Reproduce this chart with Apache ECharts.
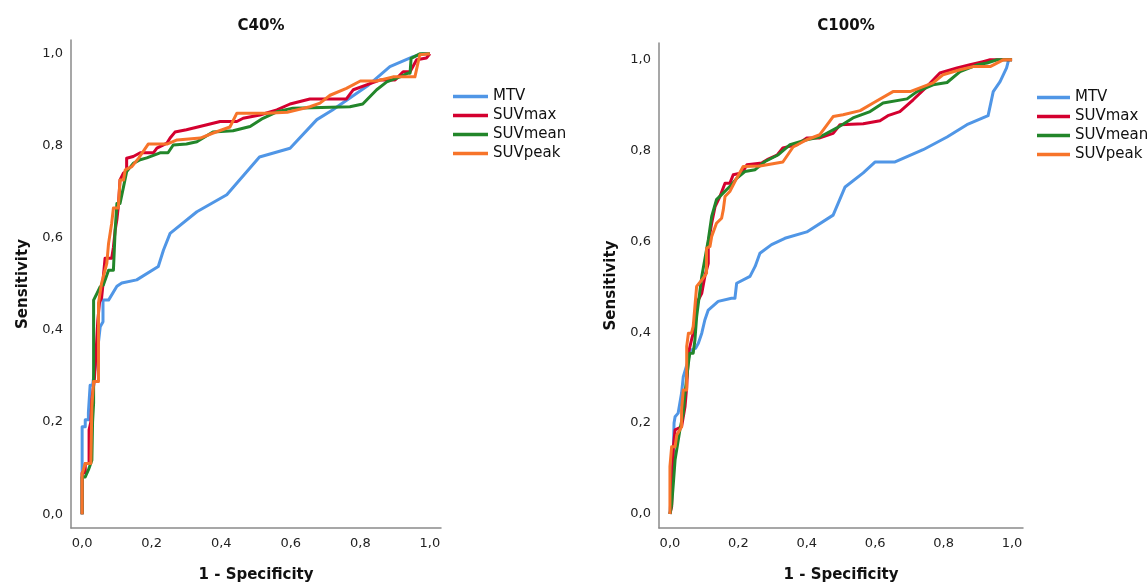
<!DOCTYPE html>
<html>
<head>
<meta charset="utf-8">
<script src="https://cdn.jsdelivr.net/npm/echarts@6.0.0/dist/echarts.min.js"></script>
<style>
html,body{margin:0;padding:0;background:#fff;}
#chart{width:1147px;height:586px;}
</style>
</head>
<body>
<div id="chart"></div>
<script>
// ---- Data ----
const seriesNames = ['MTV', 'SUVmax', 'SUVmean', 'SUVpeak'];
const panelTitles = ['C40%', 'C100%'];
const tickValues = [0, 0.2, 0.4, 0.6, 0.8, 1.0];
const xAxisTitle = '1 - Specificity';
const yAxisTitle = 'Sensitivity';

// C40% panel: [1 - specificity, sensitivity]
const c40MTV = [[0,0],[0,0.19],[0.009,0.19],[0.009,0.205],[0.018,0.205],[0.018,0.22],[0.023,0.22],[0.023,0.28],[0.03,0.28],[0.045,0.36],[0.052,0.407],[0.06,0.418],[0.06,0.465],[0.076,0.465],[0.1,0.495],[0.114,0.502],[0.157,0.509],[0.219,0.538],[0.234,0.574],[0.253,0.61],[0.33,0.657],[0.416,0.694],[0.51,0.776],[0.598,0.795],[0.675,0.857],[0.72,0.878],[0.82,0.93],[0.885,0.972],[0.952,0.994],[0.98,1.0],[1,1]];
const c40SUVmax = [[0,0],[0,0.09],[0.009,0.09],[0.009,0.11],[0.02,0.11],[0.02,0.183],[0.025,0.2],[0.028,0.25],[0.035,0.29],[0.04,0.35],[0.045,0.42],[0.05,0.46],[0.056,0.47],[0.06,0.5],[0.061,0.516],[0.066,0.556],[0.085,0.556],[0.09,0.58],[0.095,0.617],[0.1,0.64],[0.104,0.668],[0.109,0.726],[0.119,0.741],[0.128,0.745],[0.128,0.773],[0.147,0.777],[0.167,0.785],[0.205,0.785],[0.215,0.795],[0.244,0.806],[0.253,0.817],[0.267,0.83],[0.3,0.835],[0.359,0.846],[0.397,0.853],[0.445,0.853],[0.463,0.86],[0.511,0.867],[0.56,0.878],[0.598,0.891],[0.655,0.902],[0.76,0.902],[0.78,0.922],[0.82,0.933],[0.856,0.943],[0.9,0.943],[0.923,0.961],[0.943,0.961],[0.962,0.987],[0.99,0.991],[1,1]];
const c40SUVmean = [[0,0],[0,0.081],[0.009,0.081],[0.018,0.096],[0.028,0.117],[0.03,0.2],[0.033,0.241],[0.033,0.465],[0.043,0.48],[0.052,0.494],[0.061,0.498],[0.076,0.53],[0.09,0.53],[0.095,0.617],[0.1,0.675],[0.109,0.675],[0.119,0.711],[0.128,0.744],[0.147,0.762],[0.167,0.77],[0.186,0.774],[0.224,0.785],[0.247,0.785],[0.262,0.802],[0.3,0.804],[0.33,0.809],[0.376,0.83],[0.434,0.833],[0.483,0.842],[0.52,0.86],[0.56,0.874],[0.606,0.882],[0.77,0.885],[0.807,0.891],[0.847,0.922],[0.876,0.939],[0.914,0.95],[0.937,0.958],[0.943,0.958],[0.946,0.99],[0.971,1],[1,1]];
const c40SUVpeak = [[0,0],[0,0.087],[0.009,0.11],[0.025,0.11],[0.028,0.233],[0.033,0.288],[0.047,0.288],[0.047,0.42],[0.047,0.458],[0.056,0.502],[0.071,0.545],[0.076,0.588],[0.085,0.632],[0.09,0.665],[0.104,0.665],[0.109,0.726],[0.119,0.726],[0.124,0.748],[0.143,0.755],[0.162,0.773],[0.19,0.804],[0.244,0.804],[0.273,0.813],[0.34,0.817],[0.377,0.828],[0.425,0.841],[0.445,0.871],[0.53,0.871],[0.59,0.873],[0.655,0.885],[0.684,0.893],[0.713,0.91],[0.76,0.925],[0.8,0.941],[0.847,0.941],[0.894,0.95],[0.957,0.95],[0.971,0.998],[1,1]];

// C100% panel
const c100MTV = [[0,0],[0.005,0.06],[0.01,0.14],[0.012,0.2],[0.015,0.214],[0.024,0.222],[0.034,0.266],[0.039,0.302],[0.05,0.33],[0.06,0.36],[0.075,0.365],[0.083,0.376],[0.093,0.398],[0.102,0.427],[0.112,0.449],[0.141,0.468],[0.18,0.475],[0.19,0.475],[0.195,0.508],[0.234,0.523],[0.249,0.545],[0.263,0.574],[0.297,0.593],[0.336,0.607],[0.4,0.621],[0.477,0.658],[0.512,0.72],[0.565,0.751],[0.6,0.775],[0.658,0.775],[0.74,0.802],[0.81,0.83],[0.868,0.857],[0.93,0.877],[0.945,0.93],[0.965,0.952],[0.984,0.982],[0.99,1.0],[1,1]];
const c100SUVmax = [[0,0],[0.005,0.016],[0.01,0.148],[0.015,0.185],[0.034,0.192],[0.044,0.236],[0.049,0.28],[0.054,0.354],[0.063,0.383],[0.073,0.413],[0.078,0.464],[0.093,0.486],[0.102,0.523],[0.112,0.552],[0.112,0.596],[0.122,0.64],[0.132,0.677],[0.146,0.699],[0.161,0.728],[0.175,0.728],[0.185,0.747],[0.205,0.75],[0.219,0.761],[0.225,0.769],[0.269,0.773],[0.284,0.78],[0.313,0.79],[0.33,0.806],[0.371,0.813],[0.4,0.828],[0.438,0.828],[0.477,0.838],[0.497,0.857],[0.565,0.859],[0.614,0.866],[0.637,0.877],[0.672,0.886],[0.711,0.912],[0.751,0.941],[0.789,0.971],[0.839,0.982],[0.877,0.989],[0.915,0.996],[0.936,1],[1,1]];
const c100SUVmean = [[0,0],[0.005,0.02],[0.01,0.068],[0.015,0.119],[0.029,0.185],[0.039,0.222],[0.044,0.266],[0.054,0.332],[0.058,0.354],[0.068,0.354],[0.073,0.383],[0.078,0.434],[0.093,0.523],[0.112,0.603],[0.122,0.655],[0.136,0.692],[0.151,0.703],[0.18,0.725],[0.195,0.739],[0.219,0.754],[0.249,0.758],[0.278,0.776],[0.317,0.791],[0.351,0.813],[0.4,0.824],[0.438,0.83],[0.488,0.85],[0.535,0.872],[0.585,0.886],[0.623,0.905],[0.693,0.914],[0.722,0.93],[0.769,0.945],[0.81,0.95],[0.848,0.974],[0.898,0.989],[0.927,0.993],[0.956,1],[1,1]];
const c100SUVpeak = [[0,0],[0,0.104],[0.005,0.104],[0.005,0.148],[0.015,0.148],[0.02,0.174],[0.029,0.185],[0.034,0.192],[0.034,0.229],[0.039,0.273],[0.049,0.273],[0.049,0.369],[0.054,0.398],[0.063,0.398],[0.068,0.413],[0.073,0.457],[0.078,0.501],[0.093,0.515],[0.107,0.53],[0.107,0.585],[0.117,0.589],[0.122,0.611],[0.136,0.64],[0.151,0.651],[0.156,0.67],[0.161,0.699],[0.175,0.71],[0.19,0.732],[0.214,0.765],[0.263,0.766],[0.33,0.775],[0.36,0.808],[0.4,0.824],[0.438,0.835],[0.477,0.875],[0.506,0.879],[0.556,0.888],[0.594,0.905],[0.652,0.93],[0.702,0.93],[0.769,0.949],[0.798,0.967],[0.848,0.978],[0.886,0.985],[0.936,0.985],[0.974,1],[1,1]];

const panelData = [
  [c40MTV, c40SUVmax, c40SUVmean, c40SUVpeak],
  [c100MTV, c100SUVmax, c100SUVmean, c100SUVpeak]
];

// ---- Styles ----
const colors = ['#5096E6', '#D4002F', '#22862A', '#F7742A'];
const FONT = 'DejaVu Sans';
const grids = [
  {left: 71, top: 40, width: 370, height: 488, outerBoundsMode: 'none', containLabel: false},
  {left: 659, top: 43, width: 364, height: 485, outerBoundsMode: 'none', containLabel: false}
];
const yRanges = [[-0.03, 1.03], [-0.031, 1.037]];
const fmt = v => v.toFixed(1).replace('.', ',');

const chart = echarts.init(document.getElementById('chart'), null, {renderer: 'canvas'});

const xAxes = grids.map((g, i) => ({
  type: 'value', gridIndex: i, min: -0.032, max: 1.032,
  name: xAxisTitle, nameLocation: 'middle', nameGap: 40,
  nameTextStyle: {fontFamily: FONT, fontWeight: 'bold', fontSize: 15, color: '#111'},
  axisLine: {show: true, onZero: false, lineStyle: {color: '#8a8a8a', width: 1.5}},
  axisTick: {show: false},
  splitLine: {show: false},
  axisLabel: {customValues: tickValues, formatter: fmt, fontFamily: FONT, fontSize: 13, color: '#222', margin: 9}
}));
const yAxes = grids.map((g, i) => ({
  type: 'value', gridIndex: i, min: yRanges[i][0], max: yRanges[i][1],
  name: yAxisTitle, nameLocation: 'middle', nameGap: 40, nameRotate: 90,
  nameTextStyle: {fontFamily: FONT, fontWeight: 'bold', fontSize: 15, color: '#111'},
  axisLine: {show: true, onZero: false, lineStyle: {color: '#8a8a8a', width: 1.5}},
  axisTick: {show: false},
  splitLine: {show: false},
  axisLabel: {customValues: tickValues, formatter: fmt, fontFamily: FONT, fontSize: 13, color: '#222', margin: 8}
}));

const series = [];
panelData.forEach((arrs, p) => {
  arrs.forEach((d, k) => {
    series.push({
      name: seriesNames[k], type: 'line', xAxisIndex: p, yAxisIndex: p,
      data: d, showSymbol: false, symbol: 'none',
      lineStyle: {color: colors[k], width: 3, join: 'round'},
      itemStyle: {color: colors[k]},
      z: 2 + k
    });
  });
});

const legendBase = {
  orient: 'vertical', icon: 'rect', itemWidth: 35, itemHeight: 3.5, itemGap: 4,
  data: seriesNames, selectedMode: false,
  textStyle: {fontFamily: FONT, fontSize: 15, color: '#111', padding: [0, 0, 0, 0]}
};

chart.setOption({
  animation: false,
  backgroundColor: '#fff',
  color: colors,
  title: [
    {text: panelTitles[0], left: 256, top: 14, textAlign: 'center',
     textStyle: {fontFamily: FONT, fontWeight: 'bold', fontSize: 15, color: '#111'}},
    {text: panelTitles[1], left: 841, top: 14, textAlign: 'center',
     textStyle: {fontFamily: FONT, fontWeight: 'bold', fontSize: 15, color: '#111'}}
  ],
  grid: grids,
  xAxis: xAxes,
  yAxis: yAxes,
  legend: [
    Object.assign({}, legendBase, {left: 448, top: 84}),
    Object.assign({}, legendBase, {left: 1032, top: 85, itemWidth: 33})
  ],
  series: series
});
</script>
</body>
</html>
